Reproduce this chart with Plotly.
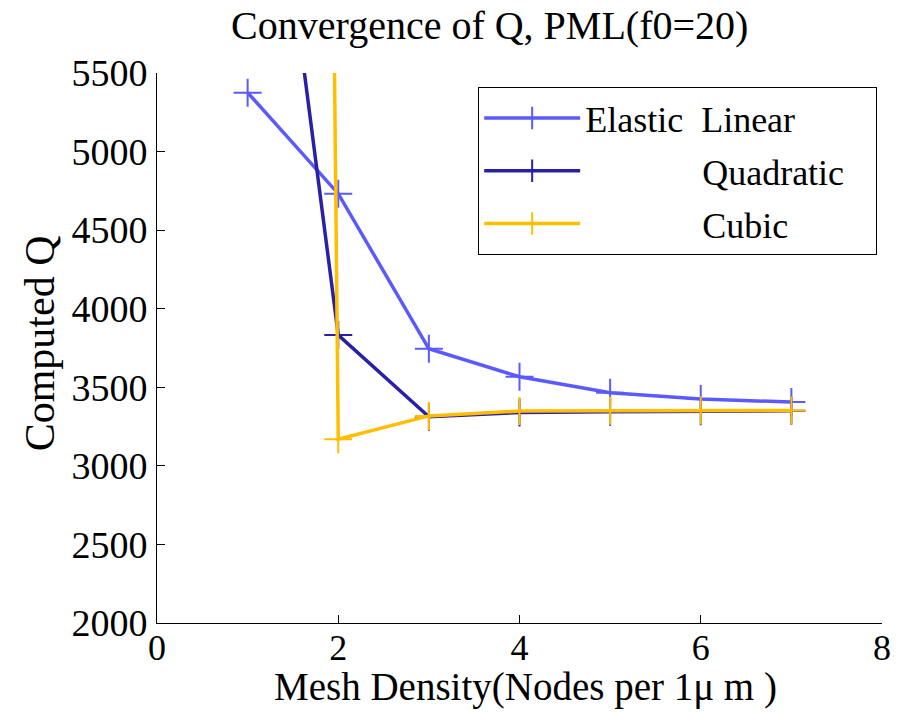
import plotly.graph_objects as go

x_nodes = [1, 2, 3, 4, 5, 6, 7]
q_linear = [5375, 4732, 3745, 3567, 3465, 3425, 3406]
q_quadratic = [8300, 3832, 3312, 3340, 3345, 3348, 3350]
q_cubic = [60000, 3170, 3318, 3349, 3351, 3352, 3352]

x_ticks = [0, 2, 4, 6, 8]
y_ticks = [2000, 2500, 3000, 3500, 4000, 4500, 5000, 5500]

names = ["Elastic\u00a0\u00a0Linear",
         "\u00a0" * 13 + "Quadratic" + "\u00a0" * 3,
         "\u00a0" * 13 + "Cubic"]
colors = ["#5a5aff", "#2a20a8", "#ffbf00"]
series = [q_linear, q_quadratic, q_cubic]

FONT = "Liberation Serif"

fig = go.Figure()
for i, (nm, col, ys) in enumerate(zip(names, colors, series)):
    fig.add_trace(go.Scatter(
        x=x_nodes, y=ys, name=nm, mode="lines+markers",
        line=dict(color=col, width=3.5),
        marker=dict(symbol="cross-thin", size=20, color=col,
                    line=dict(color=col, width=2)),
        legendgroup=f"g{i}", cliponaxis=True,
    ))

fig.update_layout(
    width=912, height=712,
    margin=dict(l=157, r=30, t=73, b=89, autoexpand=False),
    paper_bgcolor="white", plot_bgcolor="white",
    font=dict(family=FONT, size=38, color="black"),
    title=dict(text="Convergence of Q, PML(f0=20)", x=0.537, xanchor="center",
               y=0.965, yanchor="middle", font=dict(family=FONT, size=40)),
    showlegend=True,
    legend=dict(x=0.443, y=0.9745, xanchor="left", yanchor="top",
                bordercolor="black", borderwidth=1, bgcolor="white",
                font=dict(family=FONT, size=36), itemwidth=96, tracegroupgap=3),
    annotations=[
        dict(text="Mesh Density(Nodes per 1\u03bc m )", xref="paper", yref="paper",
             x=0.5076, y=-0.1164, xanchor="center", yanchor="middle",
             showarrow=False, font=dict(family=FONT, size=39)),
        dict(text="Computed Q", xref="paper", yref="paper", textangle=-90,
             x=-0.161, y=0.509, xanchor="center", yanchor="middle",
             showarrow=False, font=dict(family=FONT, size=42)),
    ],
)
fig.update_xaxes(range=[0, 8], tickvals=x_ticks, ticks="inside", automargin=False,
                 ticklen=8, tickcolor="black", showline=True, linecolor="black",
                 linewidth=1, showgrid=False, zeroline=False, mirror=False,
                 ticklabelstandoff=-7, tickfont=dict(family=FONT, size=36))
fig.update_yaxes(range=[2000, 5500], tickvals=y_ticks, automargin=False,
                 ticks="inside", ticklen=8, tickcolor="black", showline=True,
                 linecolor="black", linewidth=1, showgrid=False, zeroline=False,
                 ticklabelstandoff=1, tickfont=dict(family=FONT, size=38))

fig.write_html("out.html")
